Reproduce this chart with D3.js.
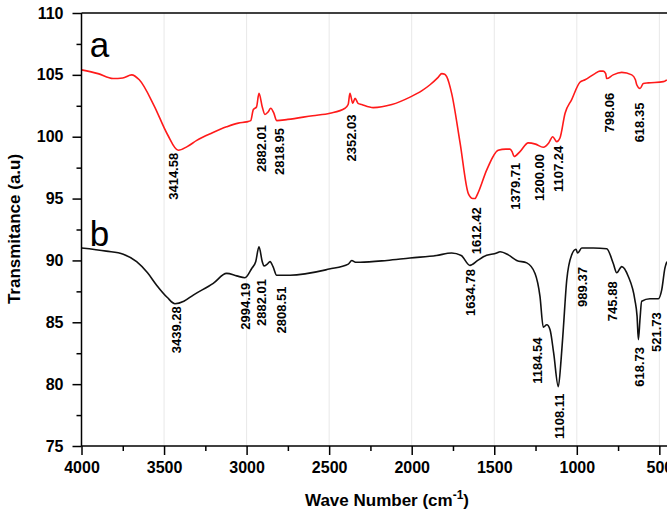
<!DOCTYPE html>
<html>
<head>
<meta charset="utf-8">
<script src="https://cdn.jsdelivr.net/npm/d3@7"></script>
<style>
  body { margin: 0; background: #fff; }
  svg text { font-family: Arial, "Liberation Sans", sans-serif; }
</style>
</head>
<body>
<div id="chart"></div>
<script>
// spectrum a (red)
var waveA  = [4000, 3900, 3809, 3750, 3696, 3650, 3560, 3480, 3414, 3360, 3302, 3210, 3121, 3050, 3000, 2975, 2959, 2940, 2925, 2905, 2889, 2870, 2854, 2835, 2818, 2750, 2600, 2495, 2404, 2385, 2374, 2357, 2343, 2325, 2303, 2233, 2120, 2010, 1940, 1889, 1840, 1818, 1800, 1788, 1758, 1707, 1657, 1630, 1617, 1600, 1546, 1476, 1430, 1405, 1392, 1380, 1344, 1294, 1250, 1203, 1170, 1146, 1122, 1102, 1071, 1031, 981, 950, 890, 860, 840, 825, 819, 780, 728, 667, 645, 637, 617, 597, 567, 476, 455];
var transA = [105.4, 105.1, 104.7, 104.75, 105.0, 104.6, 102.5, 100.2, 98.9, 99.2, 99.7, 100.3, 100.8, 101.1, 101.2, 101.3, 102.2, 102.4, 103.5, 102.4, 101.8, 102.0, 102.3, 101.9, 101.3, 101.4, 101.7, 101.9, 102.3, 102.6, 103.5, 102.7, 103.1, 102.7, 102.6, 102.35, 102.6, 103.2, 103.7, 104.2, 104.8, 105.1, 105.05, 104.85, 103.5, 99.5, 95.4, 95.0, 95.0, 95.4, 97.3, 98.9, 99.0, 99.0, 98.8, 98.4, 98.8, 99.5, 99.4, 99.15, 99.5, 100.0, 99.6, 99.9, 101.9, 103.0, 104.4, 104.6, 105.1, 105.3, 105.3, 105.1, 104.7, 105.0, 105.2, 105.0, 104.6, 104.2, 103.9, 104.3, 104.35, 104.45, 104.6];

// spectrum b (black)
var waveB  = [4000, 3850, 3747, 3666, 3600, 3545, 3480, 3434, 3380, 3323, 3202, 3121, 3060, 3010, 2969, 2945, 2925, 2905, 2895, 2875, 2858, 2840, 2818, 2737, 2500, 2384, 2363, 2340, 2313, 2150, 2010, 1850, 1758, 1700, 1647, 1600, 1566, 1485, 1465, 1415, 1364, 1303, 1253, 1223, 1203, 1182, 1162, 1140, 1112, 1095, 1082, 1061, 1031, 1005, 995, 970, 900, 819, 779, 758, 728, 688, 648, 635, 627, 617, 607, 557, 506, 486, 466, 454];
var transB = [91.0, 90.75, 90.5, 89.9, 89.0, 88.0, 87.0, 86.5, 86.7, 87.2, 88.15, 88.95, 88.75, 88.6, 89.35, 89.9, 91.1, 89.9, 89.55, 89.7, 89.9, 89.5, 88.8, 88.8, 89.3, 89.7, 90.0, 89.85, 89.85, 90.0, 90.2, 90.4, 90.6, 90.4, 89.6, 90.0, 90.3, 90.6, 90.7, 90.45, 90.0, 89.8, 88.95, 87.1, 84.6, 84.8, 84.4, 82.5, 79.8, 82.0, 84.4, 88.4, 90.45, 90.9, 90.6, 91.0, 91.0, 90.95, 89.75, 89.0, 89.5, 88.7, 86.8, 85.5, 83.6, 85.3, 86.7, 86.9, 86.9, 87.6, 89.4, 89.9];

// peak labels: text, wave where the label sits, transmittance at label centre
var labelsA   = ["3414.58", "2882.01", "2818.95", "2352.03", "1612.42", "1379.71", "1200.00", "1107.24", "798.06", "618.35"];
var labelWA   = [3440, 2909, 2798, 2363, 1610, 1374, 1223, 1112, 799, 618];
var labelTA   = [96.8, 99.05, 98.8, 99.9, 92.4, 96.0, 96.7, 97.4, 101.95, 101.15];

var labelsB   = ["3439.28", "2994.19", "2882.01", "2808.51", "1634.78", "1184.54", "1108.11", "989.37", "745.88", "618.73", "521.73"];
var labelWB   = [3422, 3004, 2907, 2786, 1641, 1239, 1102, 964, 783, 621, 520];
var labelTB   = [84.4, 86.3, 86.6, 86.0, 87.4, 81.9, 77.4, 87.85, 86.7, 81.4, 84.2];

var xMajor = [4000, 3500, 3000, 2500, 2000, 1500, 1000, 500];
var xMinor = [3750, 3250, 2750, 2250, 1750, 1250, 750];
var yMajor = [75, 80, 85, 90, 95, 100, 105, 110];
var yMinor = [77.5, 82.5, 87.5, 92.5, 97.5, 102.5, 107.5];

var width = 667, height = 519;

var svg = d3.select("#chart").append("svg")
    .attr("width", width)
    .attr("height", height);

var x = d3.scaleLinear().domain([4000, 400]).range([81.5, 81.5 + 3600 * 0.1651]);
var y = d3.scaleLinear().domain([75, 110]).range([446, 13]);

// light vertical grid
svg.append("g").selectAll("line")
    .data(xMajor.slice(1))
    .enter().append("line")
    .attr("x1", function(d) { return x(d); })
    .attr("x2", function(d) { return x(d); })
    .attr("y1", y(110))
    .attr("y2", y(75))
    .attr("stroke", "#e8e8e8")
    .attr("stroke-width", 1);

// top frame line
svg.append("line")
    .attr("x1", x(4000)).attr("x2", x(400))
    .attr("y1", y(110)).attr("y2", y(110))
    .attr("stroke", "#000").attr("stroke-width", 1.5);

var line = d3.line()
    .x(function(d) { return x(d[0]); })
    .y(function(d) { return y(d[1]); })
    .curve(d3.curveMonotoneX);

svg.append("path")
    .datum(d3.zip(waveA, transA))
    .attr("d", line)
    .attr("fill", "none")
    .attr("stroke", "#ff1a1a")
    .attr("stroke-width", 1.6);

svg.append("path")
    .datum(d3.zip(waveB, transB))
    .attr("d", line)
    .attr("fill", "none")
    .attr("stroke", "#111")
    .attr("stroke-width", 1.6);

// axes
var xAxis = svg.append("g")
    .attr("transform", "translate(0," + y(75) + ")")
    .call(d3.axisBottom(x).tickValues(xMajor).tickSize(9).tickPadding(7).tickFormat(d3.format("d")));
svg.append("g")
    .attr("transform", "translate(0," + y(75) + ")")
    .call(d3.axisBottom(x).tickValues(xMinor).tickSize(5).tickFormat(""))
    .select(".domain").remove();

var yAxis = svg.append("g")
    .attr("transform", "translate(" + x(4000) + ",0)")
    .call(d3.axisLeft(y).tickValues(yMajor).tickSize(9).tickPadding(9));
svg.append("g")
    .attr("transform", "translate(" + x(4000) + ",0)")
    .call(d3.axisLeft(y).tickValues(yMinor).tickSize(5).tickFormat(""))
    .select(".domain").remove();

svg.selectAll(".domain").attr("stroke-width", 1.5).attr("d", null);
xAxis.select(".domain").attr("d", "M" + x(4000) + ",0H" + x(400));
yAxis.select(".domain").attr("d", "M0," + y(75) + "V" + y(110));
svg.selectAll(".tick line").attr("stroke-width", 1.5);
svg.selectAll(".tick text")
    .style("font-size", "16px")
    .style("font-weight", "bold")
    .attr("fill", "#000");

// axis titles
var xt = svg.append("text")
    .attr("x", 387)
    .attr("y", 506)
    .attr("text-anchor", "middle")
    .style("font-size", "17px")
    .style("font-weight", "bold")
    .text("Wave Number (cm");
xt.append("tspan").attr("dy", -7).style("font-size", "12px").text("-1");
xt.append("tspan").attr("dy", 7).text(")");

svg.append("text")
    .attr("transform", "translate(20,229) rotate(-90)")
    .attr("text-anchor", "middle")
    .style("font-size", "17px")
    .style("font-weight", "bold")
    .text("Transmitance (a.u)");

// curve letters
svg.append("text").attr("x", x(3950)).attr("y", y(106.45))
    .style("font-size", "35px").text("a");
svg.append("text").attr("x", x(3950)).attr("y", y(91.2))
    .style("font-size", "35px").text("b");

// peak annotations
function annotate(texts, ws, ts) {
    svg.append("g").selectAll("text")
        .data(d3.zip(texts, ws, ts))
        .enter().append("text")
        .attr("transform", function(d) {
            return "translate(" + x(d[1]) + "," + y(d[2]) + ") rotate(-90)";
        })
        .attr("text-anchor", "middle")
        .attr("dominant-baseline", "central")
        .style("font-size", "13px")
        .style("font-weight", "bold")
        .text(function(d) { return d[0]; });
}
annotate(labelsA, labelWA, labelTA);
annotate(labelsB, labelWB, labelTB);
</script>
</body>
</html>
